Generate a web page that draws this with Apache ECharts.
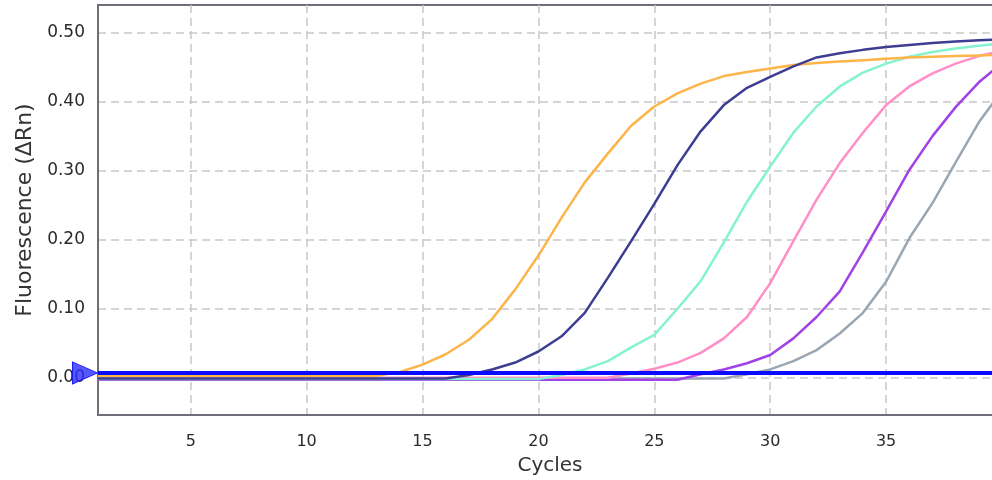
<!DOCTYPE html>
<html>
<head>
<meta charset="utf-8">
<script src="https://cdn.jsdelivr.net/npm/echarts@6/dist/echarts.min.js"></script>
<style>
  html, body { margin: 0; padding: 0; background: #fff; }
  #chart { width: 992px; height: 480px; }
</style>
</head>
<body>
<div id="chart"></div>
<script>
var cycles = [1,2,3,4,5,6,7,8,9,10,11,12,13,14,15,16,17,18,19,20,
              21,22,23,24,25,26,27,28,29,30,31,32,33,34,35,36,37,38,39,40];

var orangeVals = [0.002,0.002,0.002,0.002,0.002,0.002,0.002,0.002,0.002,0.002,0.002,0.002,0.003,
                  0.008,0.019,0.034,0.055,0.085,0.128,0.177,0.232,0.283,0.325,0.365,0.393,0.412,
                  0.426,0.437,0.443,0.448,0.453,0.456,0.458,0.460,0.462,0.464,0.465,0.466,0.467,0.468];
var navyVals = [-0.001,-0.001,-0.001,-0.001,-0.001,-0.001,-0.001,-0.001,-0.001,-0.001,-0.001,-0.001,-0.001,-0.001,-0.001,-0.001,
                0.004,0.012,0.022,0.038,0.060,0.094,0.145,0.198,0.252,0.308,0.357,0.395,0.420,0.436,
                0.451,0.464,0.470,0.475,0.479,0.482,0.485,0.487,0.489,0.490];
var aquaVals = [-0.002,-0.002,-0.002,-0.002,-0.002,-0.002,-0.002,-0.002,-0.002,-0.002,
                -0.002,-0.002,-0.002,-0.002,-0.002,-0.002,-0.002,-0.002,-0.002,-0.002,
                0.004,0.012,0.024,0.044,0.062,0.100,0.140,0.196,0.255,0.306,
                0.355,0.393,0.422,0.442,0.455,0.465,0.472,0.477,0.481,0.484];
var pinkVals = [0,0,0,0,0,0,0,0,0,0,0,0,0,0,0,0,0,0,0,0,0,0,0,
                0.006,0.013,0.022,0.036,0.057,0.088,0.137,0.198,0.258,0.311,0.355,0.395,0.422,
                0.441,0.455,0.466,0.474];
var purpleVals = [-0.003,-0.003,-0.003,-0.003,-0.003,-0.003,-0.003,-0.003,-0.003,-0.003,-0.003,-0.003,-0.003,
                  -0.003,-0.003,-0.003,-0.003,-0.003,-0.003,-0.003,-0.003,-0.003,-0.003,-0.003,-0.003,-0.003,
                  0.005,0.012,0.021,0.033,0.057,0.088,0.125,0.182,0.241,0.301,0.350,0.392,0.428,0.456];
var grayVals = [-0.001,-0.001,-0.001,-0.001,-0.001,-0.001,-0.001,-0.001,-0.001,-0.001,-0.001,-0.001,-0.001,-0.001,
                -0.001,-0.001,-0.001,-0.001,-0.001,-0.001,-0.001,-0.001,-0.001,-0.001,-0.001,-0.001,-0.001,-0.001,
                0.005,0.012,0.024,0.040,0.064,0.094,0.139,0.202,0.253,0.312,0.370,0.416];
var threshold = 0.007;

function pairs(vals) {
    return cycles.map(function (c, i) { return [c, vals[i]]; });
}

var curves = [
    { name: 'Sample 6', vals: grayVals,   color: '#9aa6b2' },
    { name: 'Sample 5', vals: purpleVals, color: '#a142e6' },
    { name: 'Sample 4', vals: pinkVals,   color: '#ff8fc6' },
    { name: 'Sample 3', vals: aquaVals,   color: '#86f3d0' },
    { name: 'Sample 1', vals: orangeVals, color: '#fdb449' },
    { name: 'Sample 2', vals: navyVals,   color: '#3d3d92' }
];

var font = 'DejaVu Sans';
var myChart = echarts.init(document.getElementById('chart'));

var series = curves.map(function (c) {
    return {
        name: c.name,
        type: 'line',
        data: pairs(c.vals),
        showSymbol: false,
        smooth: false,
        lineStyle: { color: c.color, width: 2.5 },
        itemStyle: { color: c.color },
        z: 3
    };
});

// threshold line + arrow marker
series.push({
    name: 'Threshold',
    type: 'line',
    data: cycles.map(function (c) { return [c, threshold]; }),
    showSymbol: false,
    lineStyle: { color: '#0a0aff', width: 4 },
    itemStyle: { color: '#0a0aff' },
    z: 5,
    markPoint: {
        symbol: 'triangle',
        symbolSize: [22, 25],
        symbolRotate: -90,
        symbolOffset: [-13, 0],
        silent: true,
        label: { show: false },
        itemStyle: { color: 'rgba(45,45,255,0.8)', borderColor: '#1a1aff', borderWidth: 1 },
        data: [{ coord: [cycles[0], threshold] }]
    }
});

var option = {
    animation: false,
    backgroundColor: '#fff',
    grid: {
        left: 98, top: 5, width: 904, bottom: 65,
        outerBoundsMode: 'none',
        show: true, borderColor: '#6e6e78', borderWidth: 2
    },
    xAxis: {
        type: 'value',
        min: 1, max: 40,
        minInterval: 5, maxInterval: 5,
        name: 'Cycles',
        nameLocation: 'middle',
        nameGap: 41,
        nameTextStyle: { fontFamily: font, fontSize: 20, color: '#333' },
        axisLine: { onZero: false, lineStyle: { color: '#6e6e78', width: 2 } },
        axisTick: { show: false },
        axisLabel: { showMinLabel: false, showMaxLabel: false, margin: 19,
                     fontFamily: font, fontSize: 16, color: '#2a2a2a' },
        splitLine: { showMinLine: false, showMaxLine: false,
                     lineStyle: { color: '#c8c8c8', width: 1.5, type: [8, 5] } }
    },
    yAxis: {
        type: 'value',
        min: -0.054, max: 0.54,
        minInterval: 0.1, maxInterval: 0.1,
        name: 'Fluorescence (ΔRn)',
        nameLocation: 'middle',
        nameGap: 53,
        nameTextStyle: { fontFamily: font, fontSize: 22, color: '#333' },
        axisLine: { show: true, onZero: false, lineStyle: { color: '#6e6e78', width: 2 } },
        axisTick: { show: false },
        axisLabel: {
            showMinLabel: false, showMaxLabel: false, margin: 13,
            fontFamily: font, fontSize: 17, color: '#2a2a2a',
            formatter: function (v) { return v.toFixed(2); }
        },
        splitLine: { showMinLine: false, showMaxLine: false,
                     lineStyle: { color: '#c8c8c8', width: 1.5, type: [8, 5] } }
    },
    series: series
};

myChart.setOption(option);
</script>
</body>
</html>
